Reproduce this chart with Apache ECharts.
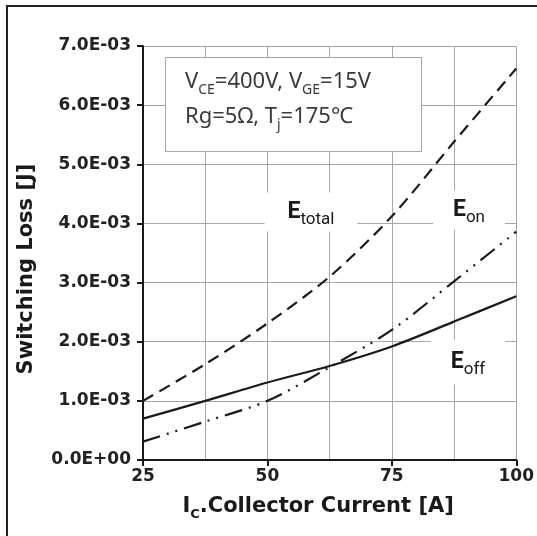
<!DOCTYPE html>
<html>
<head>
<meta charset="utf-8">
<script src="https://cdn.jsdelivr.net/npm/echarts@6/dist/echarts.min.js"></script>
<style>
  html, body { margin: 0; padding: 0; background: #fff; }
  #chart-panel { width: 537px; height: 536px; }
</style>
</head>
<body>
<div id="chart-panel"></div>
<script>
// collector current [A]
const currents = [25, 37.5, 50, 62.5, 75, 87.5, 100];
// switching loss [J]
const eTotal = [1.00e-3, 1.62e-3, 2.31e-3, 3.10e-3, 4.12e-3, 5.38e-3, 6.62e-3];
const eOn = [0.31e-3, 0.65e-3, 1.00e-3, 1.57e-3, 2.20e-3, 3.02e-3, 3.86e-3];
const eOff = [0.70e-3, 1.00e-3, 1.31e-3, 1.59e-3, 1.92e-3, 2.34e-3, 2.77e-3];

const conditions = ["V|CE|=400V, V|GE|=15V", "Rg=5Ω, T|j|=175℃"];
const curveNames = ["total", "on", "off"];

const ink = "#1a1a1a";
const gridGray = "#a6a6a6";
const boldFont = "DejaVu Sans";

// 7.0E-03 style tick labels
function sci(v) {
  if (v === 0) return "0.0E+00";
  const e = Math.floor(Math.log10(v) + 1e-9);
  const m = v / Math.pow(10, e);
  return m.toFixed(1) + "E" + (e < 0 ? "-" : "+") + String(Math.abs(e)).padStart(2, "0");
}

// "a|b|c" -> main / subscript / main rich text
function subText(s) {
  return s.split("|").map((p, i) => (i % 2 ? "{s|" + p + "}" : "{m|" + p + "}")).join("");
}

function pairs(ys) {
  return currents.map((c, i) => [c, ys[i]]);
}

let chartPanel = echarts.init(document.getElementById("chart-panel"));

const curveLabel = (name, x, y, pad) => ({
  type: "text",
  x: x,
  y: y,
  z: 1,
  style: {
    text: "{m|E}{s|" + name + "}",
    align: "center",
    verticalAlign: "middle",
    backgroundColor: "#fff",
    padding: pad,
    rich: {
      m: { fontFamily: "Roboto", fontWeight: "bold", fontSize: 23, fill: ink },
      s: { fontFamily: "Roboto", fontSize: 17, fill: ink, padding: [16, 0, 0, 0] },
    },
  },
});

let option = {
  animation: false,
  grid: { left: 143, right: 20, top: 46, bottom: 76 },
  xAxis: {
    type: "value",
    min: 25,
    max: 100,
    interval: 25,
    name: "{b|I}{c|C}{b|.Collector Current [A]}",
    nameLocation: "middle",
    nameGap: 33,
    nameTextStyle: {
      padding: [0, 23, 0, 0],
      rich: {
        b: { fontFamily: boldFont, fontWeight: "bold", fontSize: 21, color: ink },
        c: { fontFamily: boldFont, fontWeight: "bold", fontSize: 13, color: ink, padding: [15, 0, 0, 0] },
      },
    },
    axisLine: { lineStyle: { color: ink, width: 2 } },
    axisTick: { length: 6, lineStyle: { color: ink, width: 2 } },
    axisLabel: { margin: 8, fontFamily: boldFont, fontWeight: "bold", fontSize: 17, color: "#222" },
    splitLine: { show: true, lineStyle: { color: gridGray, width: 1 } },
    minorTick: { show: false, splitNumber: 2 },
    minorSplitLine: { show: true, lineStyle: { color: gridGray, width: 1 } },
  },
  yAxis: {
    type: "value",
    min: 0,
    max: 0.007,
    interval: 0.001,
    name: "Switching Loss [J]",
    nameLocation: "middle",
    nameGap: 106,
    nameTextStyle: {
      fontFamily: boldFont,
      fontWeight: "bold",
      fontSize: 21,
      color: ink,
      padding: [0, 32, 0, 0],
    },
    axisLine: { show: true, lineStyle: { color: ink, width: 2 } },
    axisTick: { show: true, length: 6, lineStyle: { color: ink, width: 2 } },
    axisLabel: {
      margin: 12,
      fontFamily: boldFont,
      fontWeight: "bold",
      fontSize: 17,
      color: "#222",
      formatter: sci,
    },
    splitLine: { show: true, lineStyle: { color: gridGray, width: 1 } },
  },
  series: [
    {
      name: "Etotal",
      type: "line",
      data: pairs(eTotal),
      smooth: 0.3,
      showSymbol: false,
      z: 3,
      lineStyle: { color: ink, width: 2.2, type: [12, 7] },
    },
    {
      name: "Eon",
      type: "line",
      data: pairs(eOn),
      smooth: 0.3,
      showSymbol: false,
      z: 3,
      lineStyle: { color: ink, width: 2.2, type: [18, 7, 2, 7, 2, 7] },
    },
    {
      name: "Eoff",
      type: "line",
      data: pairs(eOff),
      smooth: 0.3,
      showSymbol: false,
      z: 3,
      lineStyle: { color: ink, width: 2.2 },
    },
  ],
  graphic: [
    // outer frame (left / top edges)
    {
      type: "rect",
      z: 5,
      shape: { x: 7, y: 6, width: 700, height: 700 },
      style: { fill: null, stroke: "#222", lineWidth: 2 },
    },
    // conditions box
    {
      type: "rect",
      z: 1,
      shape: { x: 165.5, y: 57.5, width: 256, height: 94 },
      style: { fill: "#fff", stroke: gridGray, lineWidth: 1 },
    },
    {
      type: "text",
      z: 1,
      x: 185,
      y: 64.5,
      style: {
        text: conditions.map(subText).join("\n"),
        align: "left",
        verticalAlign: "top",
        rich: {
          m: { fontFamily: "Noto Sans", fontSize: 22, lineHeight: 35, fill: "#3a3a3a" },
          s: { fontFamily: "Noto Sans", fontSize: 14, fill: "#3a3a3a", padding: [16, 0, 0, 0] },
        },
      },
    },
    curveLabel(curveNames[0], 311, 212, [3, 23]),
    curveLabel(curveNames[1], 469, 210, [3, 20]),
    curveLabel(curveNames[2], 468, 362, [6, 20]),
  ],
};

chartPanel.setOption(option);
</script>
</body>
</html>
